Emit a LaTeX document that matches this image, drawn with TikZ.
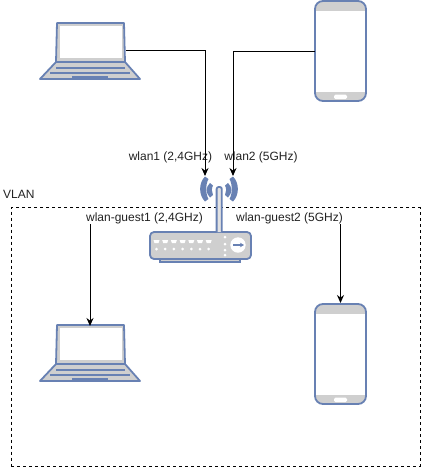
\documentclass[tikz,border=0pt]{standalone}
\usepackage{fontspec}
\setmainfont{Liberation Sans}
\usetikzlibrary{arrows.meta,positioning}
\definecolor{devblue}{HTML}{6881B3}
\definecolor{devgray}{HTML}{CFCFCF}
\definecolor{txtgray}{HTML}{222222}
\tikzset{
  lbl/.style={font=\fontsize{12}{14}\selectfont,text=txtgray,inner sep=0pt},
  wire/.style={-{Stealth[length=8pt,width=7pt]},black,line width=1pt},
  devbox/.style={inner sep=0pt,outer sep=0pt},
  devline/.style={draw=devblue,line width=1.8pt,line join=round},
  pics/laptop/.style={code={
    \fill[devgray] (0,56) -- (16,39) -- (84,39) -- (100,56) -- cycle;
    \draw[devline,fill=devgray] (16,39) -- (17,0) -- (84,0) -- (85,39) -- cycle;
    \fill[white] (19.5,3) rectangle (81.5,35);
    \draw[devline] (0,56) -- (16,39) -- (85,39) -- (100,56) -- cycle;
    \draw[devblue,line width=1.4pt] (16,45) -- (85,45) (10,50) -- (90,50);
    \draw[devblue,line width=1.4pt] (32,54) -- (68,54);
  }},
  pics/phone/.style={code={
    \fill[devgray,rounded corners=8pt] (0,0) rectangle (51,100);
    \fill[white] (1,9.5) rectangle (50,91);
    \draw[devline,rounded corners=8pt] (0,0) rectangle (51,100);
    \fill[white,rounded corners=1.5pt] (19,93.5) rectangle (32,98);
  }}
}
\begin{document}
\begin{tikzpicture}[x=1pt,y=-1pt]
\useasboundingbox (0,0) rectangle (421,467);
% vlan area
\node[draw,dashed,line width=0.8pt,minimum width=408.6pt,minimum height=258.6pt,inner sep=0pt,anchor=north west] (vlanbox) at (11,207) {};
\node[lbl,anchor=west] (vlanlbl) at (3,194) {VLAN};
% devices
\pic at (40,23) {laptop};
\pic at (40,325) {laptop};
\pic at (315,1) {phone};
\pic at (315,304) {phone};
\node[devbox,minimum width=70pt,minimum height=26pt] (laptopA) at (91,50) {};
\node[devbox,minimum width=51pt,minimum height=100pt] (phoneA) at (340.5,51) {};
\node[devbox,minimum width=68pt,minimum height=40pt,anchor=north] (laptopB) at (90,326) {};
\node[devbox,minimum width=51pt,minimum height=100pt,anchor=north] (phoneB) at (340.5,303) {};
% router
\fill[devgray,draw=devblue,line width=1.3pt] (160,259) rectangle (240,262);
\draw[devline,fill=devgray,rounded corners=4pt] (150,232) rectangle (251,259);
\foreach \i in {0,...,6} {
  \fill[white] (153.5+8.7*\i,240) -- ++(6,0) -- ++(-1,3) -- ++(-4,0) -- cycle;
  \fill[white] (156.5+8.7*\i,249) circle (1.5pt);
}
\foreach \i in {237,244,250,255} \fill[white] (225,\i) circle (1.5pt);
\fill[white] (238,245) circle (7.7pt);
\draw[-{Stealth[length=4pt,width=4.5pt]},devblue,line width=1.3pt] (233,245) -- (244,245);
% antenna
\draw[devline,fill=devgray!60,rounded corners=2pt] (216.6,232) -- (216.6,187) -- (221.8,187) -- (221.8,232);
\foreach \s in {-1,1} {
  \fill[devblue] (219+\s*14,176.5) .. controls (219+\s*20.5,183) and (219+\s*20.5,195) .. (219+\s*14,201.5)
    -- (219+\s*10.5,199) .. controls (219+\s*13.5,194) and (219+\s*13.5,184) .. (219+\s*10.5,179) -- cycle;
  \fill[devblue] (219+\s*9,183) .. controls (219+\s*13.5,187) and (219+\s*13.5,193) .. (219+\s*9,197.5)
    -- (219+\s*6,195) .. controls (219+\s*7.5,192) and (219+\s*7.5,188) .. (219+\s*6,185.5) -- cycle;
}
\node[devbox,minimum width=4pt,minimum height=26pt] (wifiL) at (205,189) {};
\node[devbox,minimum width=4pt,minimum height=26pt] (wifiR) at (233,189) {};
% labels
\node[lbl] (wlanA) at (170.5,157) {wlan1 (2,4GHz)};
\node[lbl] (wlanB) at (261,157) {wlan2 (5GHz)};
\node[lbl] (guestA) at (144.5,218) {wlan-guest1 (2,4GHz)};
\node[lbl] (guestB) at (289.5,218) {wlan-guest2 (5GHz)};
% wires
\draw[wire] (laptopA.east) -| (wifiL.north);
\draw[wire] (phoneA.west) -| (wifiR.north);
\draw[wire] (guestA.south -| laptopB.north) -- (laptopB.north);
\draw[wire] (guestB.south -| phoneB.north) -- (phoneB.north);
\end{tikzpicture}
\end{document}
